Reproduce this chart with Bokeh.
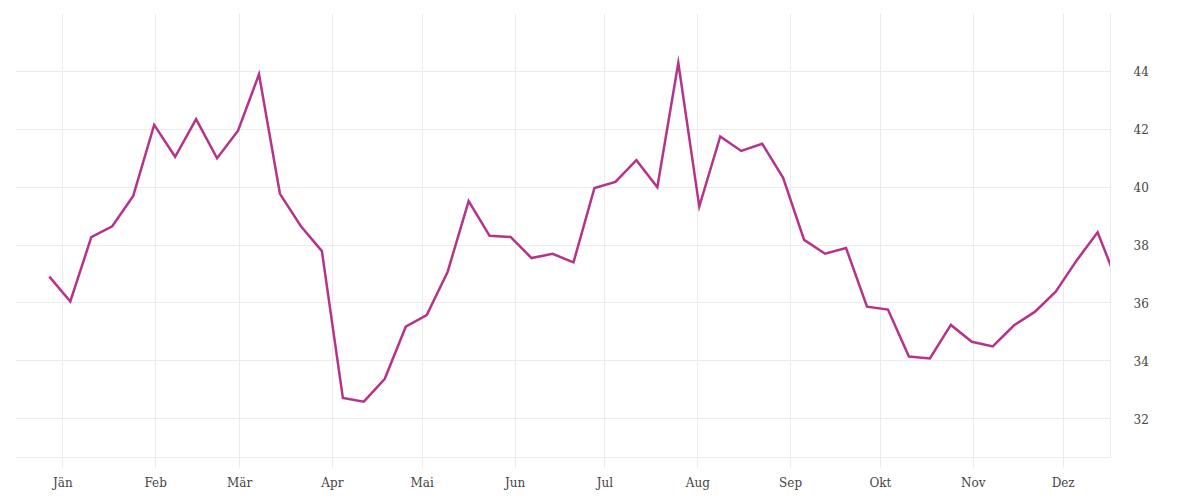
import pandas as pd
from bokeh.plotting import figure
from bokeh.models import Range1d, FixedTicker
from bokeh.embed import file_html
from bokeh.resources import INLINE

# weekly values
values = [36.91, 36.05, 38.27, 38.65, 39.70, 42.15, 41.05, 42.35, 41.00, 41.95,
          43.90, 39.77, 38.65, 37.79, 32.72, 32.59, 33.38, 35.18, 35.58, 37.08,
          39.52, 38.32, 38.28, 37.55, 37.70, 37.40, 39.97, 40.18, 40.93, 40.00,
          44.30, 39.33, 41.75, 41.25, 41.50, 40.32, 38.18, 37.70, 37.90, 35.87,
          35.77, 34.15, 34.08, 35.24, 34.66, 34.50, 35.22, 35.69, 36.39, 37.47,
          38.44, 36.60]
start_date = "2020-12-27 12:00"
dates = pd.date_range(start_date, periods=len(values), freq="7D")

month_labels = ["Jän", "Feb", "Mär", "Apr", "Mai", "Jun", "Jul", "Aug", "Sep", "Okt", "Nov", "Dez"]
month_starts = pd.date_range("2021-01-01", periods=12, freq="MS")
y_ticks = [32, 34, 36, 38, 40, 42, 44]
y_grid = [32, 34, 36, 38, 40, 42, 44, 46]

def ms(t):
    return pd.Timestamp(t).value / 1e6

jan1 = pd.Timestamp("2021-01-01")
x_start = ms(jan1 - pd.Timedelta(days=15.8))
x_end = ms(jan1 + pd.Timedelta(days=349.8))

p = figure(width=1192, height=492, output_backend="svg", toolbar_location=None,
           x_axis_type="datetime", y_axis_location="right",
           x_range=Range1d(x_start, x_end), y_range=Range1d(30.66, 46.0),
           min_border_left=15, min_border_right=82, min_border_top=13, min_border_bottom=34)
p.outline_line_color = None
p.background_fill_color = "white"
p.border_fill_color = "white"

p.line(dates, values, line_color="#b5338a", line_width=2.5, line_join="miter")

FONT = "DejaVu Serif"
tick_ms = [ms(t) for t in month_starts]
xax = p.xaxis[0]
xax.ticker = FixedTicker(ticks=tick_ms)
xax.major_label_overrides = {t: l for t, l in zip(tick_ms, month_labels)}
xax.axis_line_color = "#ebebeb"
xax.major_tick_line_color = "#ebebeb"
xax.major_tick_out = 10
xax.major_tick_in = 0
xax.minor_tick_line_color = None
xax.major_label_standoff = 8
xax.major_label_text_font = FONT
xax.major_label_text_font_size = "12px"
xax.major_label_text_color = "#444444"

yax = p.yaxis[0]
yax.ticker = FixedTicker(ticks=y_ticks)
yax.axis_line_color = "#ebebeb"
yax.major_tick_line_color = None
yax.minor_tick_line_color = None
yax.major_label_standoff = 17
yax.major_label_text_font = FONT
yax.major_label_text_font_size = "12px"
yax.major_label_text_color = "#444444"

p.xgrid.ticker = FixedTicker(ticks=tick_ms)
p.xgrid.grid_line_color = "#ebebeb"
p.ygrid.ticker = FixedTicker(ticks=y_grid)
p.ygrid.grid_line_color = "#ebebeb"

open("out.html", "w").write(file_html(p, INLINE))
